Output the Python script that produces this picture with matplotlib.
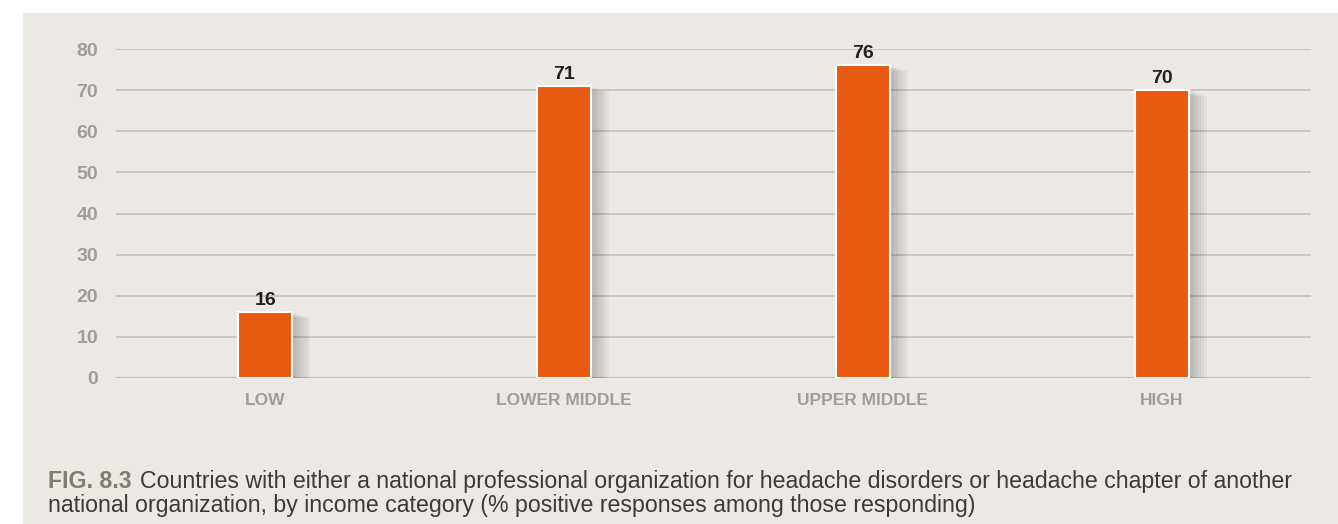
import matplotlib
matplotlib.use("Agg")
import matplotlib.pyplot as plt
import matplotlib.patheffects as pe
from matplotlib.patches import Rectangle

categories = ["LOW", "LOWER MIDDLE", "UPPER MIDDLE", "HIGH"]
values = [16, 71, 76, 70]
yticks = [0, 10, 20, 30, 40, 50, 60, 70, 80]
fig_label = "FIG. 8.3"
caption_line1 = ("Countries with either a national professional organization for headache disorders or headache chapter of another")
caption_line2 = "national organization, by income category (% positive responses among those responding)"

BG = "#ECE9E4"
BAR = "#E85B10"
GRID = "#C4C0B9"
TICK = "#A09D98"
DARK = "#231F20"
FONT = ["Liberation Sans", "DejaVu Sans"]

W, H = 1338, 524
fig = plt.figure(figsize=(W / 100, H / 100), dpi=100, facecolor="white")
fig.patches.append(Rectangle((23 / W, 0), 1 - 23 / W, (H - 13) / H,
                             transform=fig.transFigure, facecolor=BG,
                             edgecolor="none", zorder=-10))

ax = fig.add_axes([116 / W, (H - 378) / H, (1311 - 116) / W, (378 - 49) / H])
ax.set_zorder(2)
ax.set_facecolor("none")
ax.set_xlim(-0.5, 3.5)
ax.set_ylim(0, 80)

for y in yticks:
    ax.axhline(y, color=GRID, lw=1.6 if y == 0 else 1.2, zorder=1)

# soft drop shadow built from several faint offset copies
shadow = [pe.SimplePatchShadow(offset=(d, -d * 0.3), shadow_rgbFace="black", alpha=0.035)
          for d in (1, 3, 5, 7, 9, 11, 13)] + [pe.Normal()]
x = list(range(len(categories)))
bars = ax.bar(x, values, width=0.18, color=BAR, edgecolor="white", linewidth=1.5, zorder=3)
for b in bars:
    b.set_path_effects(shadow)

for xi, v in zip(x, values):
    ax.text(xi, v + 0.8, str(v), ha="center", va="bottom", fontsize=14,
            fontweight="bold", color=DARK, family=FONT, zorder=4)

ax.set_yticks(yticks)
ax.set_yticklabels([str(t) for t in yticks], family=FONT, fontsize=14,
                   fontweight="bold", color=TICK)
ax.set_xticks(x)
ax.set_xticklabels(categories, family=FONT, fontsize=12.5, fontweight="bold", color=TICK)
ax.tick_params(axis="y", length=0, pad=13)
ax.tick_params(axis="x", length=0, pad=11)
for s in ax.spines.values():
    s.set_visible(False)

# caption: size chosen so the first line spans the panel width
cap_size = 15
t1 = fig.text(48 / W, (H - 488) / H, fig_label, family=FONT, fontsize=cap_size,
              fontweight="bold", color="#857A74", va="baseline")
t2 = fig.text(0, (H - 488) / H, caption_line1, family=FONT, fontsize=cap_size,
              color="#3A3A3A", va="baseline")
t3 = fig.text(48 / W, (H - 512) / H, caption_line2, family=FONT, fontsize=cap_size,
              color="#3A3A3A", va="baseline")
fig.canvas.draw()
r = fig.canvas.get_renderer()
w1 = t1.get_window_extent(r).width
w2 = t2.get_window_extent(r).width
scale = (1296 - 48 - 8) / (w1 + w2)
for t in (t1, t2, t3):
    t.set_fontsize(cap_size * scale)
fig.canvas.draw()
bb = t1.get_window_extent(r)
t2.set_x((bb.x1 + 8) / W)

fig.savefig("out.png", dpi=100, facecolor=fig.get_facecolor())
